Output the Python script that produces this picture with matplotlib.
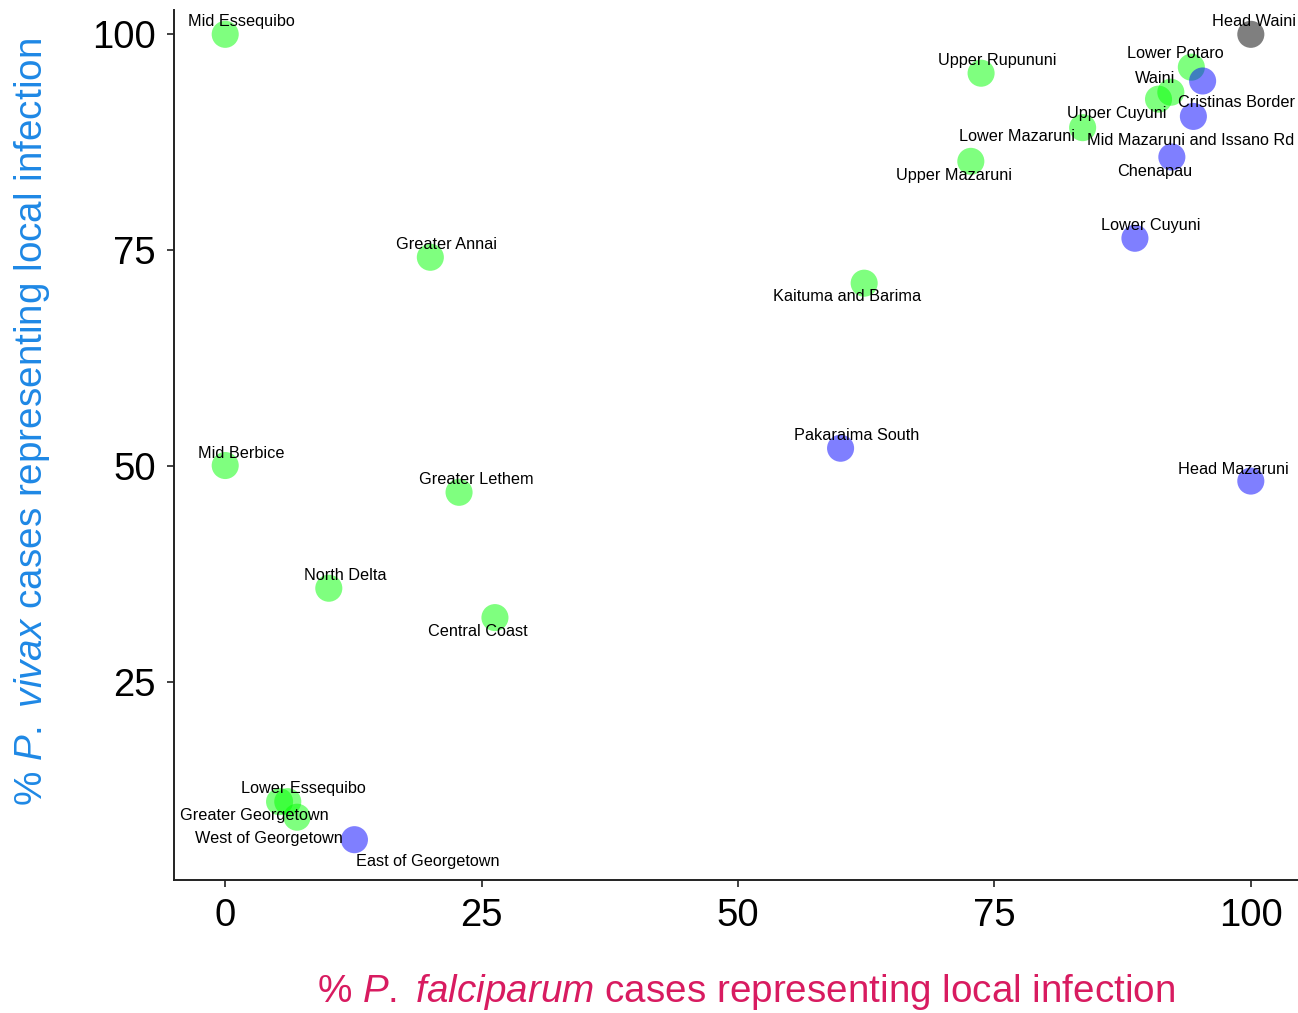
import matplotlib
matplotlib.use('Agg')
import matplotlib.pyplot as plt

plt.rcParams['font.family'] = ['Liberation Sans', 'DejaVu Sans']
plt.rcParams['mathtext.fontset'] = 'custom'
plt.rcParams['mathtext.rm'] = 'Liberation Sans'
plt.rcParams['mathtext.it'] = 'Liberation Sans:italic'

# region names and % local infection
regions = ['Mid Essequibo', 'Head Waini', 'Upper Rupununi', 'Lower Potaro',
           'Cristinas Border', 'Waini', 'Upper Cuyuni', 'Mid Mazaruni and Issano Rd',
           'Lower Mazaruni', 'Upper Mazaruni', 'Chenapau', 'Lower Cuyuni',
           'Greater Annai', 'Kaituma and Barima', 'Pakaraima South', 'Mid Berbice',
           'Head Mazaruni', 'Greater Lethem', 'North Delta', 'Central Coast',
           'Lower Essequibo', 'Greater Georgetown', 'West of Georgetown',
           'East of Georgetown']
pf_local = [0, 100, 73.7, 94.2, 95.3, 92.2, 91.0, 94.4, 83.6, 72.7, 92.3, 88.7,
            20.0, 62.3, 60.0, 0, 100, 22.8, 10.1, 26.3, 6.1, 5.3, 7.0, 12.6]
pv_local = [100, 100, 95.5, 96.2, 94.6, 93.3, 92.5, 90.5, 89.2, 85.3, 85.8, 76.4,
            74.2, 71.2, 52.1, 50.1, 48.3, 47.0, 35.9, 32.5, 11.2, 11.2, 9.4, 6.8]
group = ['g', 'k', 'g', 'g', 'b', 'g', 'g', 'b', 'g', 'g', 'b', 'b',
         'g', 'g', 'b', 'g', 'b', 'g', 'g', 'g', 'g', 'g', 'g', 'b']

# label offsets in pixels (dx, dy up)
offsets = [(16, 13), (3, 13), (16, 13), (-16, 14), (34, -22), (-16, 14), (-42, -14),
           (-3, -24), (-66, -9), (-17, -14), (-17, -14), (16, 13),
           (16, 13), (-17, -13), (16, 13), (16, 12), (-17, 12), (17, 13),
           (16, 13), (-17, -14), (16, 13), (-25, -14), (-28, -21), (73, -22)]

colours = {'g': '#00ff00', 'b': '#0000ff', 'k': '#000000'}

fig = plt.figure(figsize=(12.98, 10.13), dpi=100)
ax = fig.add_axes([0.134, 0.131, 0.866, 0.859])

ax.scatter(pf_local, pv_local, s=380, c=[colours[g] for g in group],
           alpha=0.5, linewidths=0, zorder=2)

for i in range(len(regions)):
    dx, dy = offsets[i]
    ax.annotate(regions[i], (pf_local[i], pv_local[i]),
                xytext=(dx * 0.72, dy * 0.72), textcoords='offset points',
                ha='center', va='center', fontsize=11.7, color='black', zorder=3)

ax.set_xlim(-5, 104.6)
ax.set_ylim(2.1, 102.8)
ax.set_xticks([0, 25, 50, 75, 100])
ax.set_yticks([25, 50, 75, 100])
ax.tick_params(labelsize=27.5, length=5, width=1.3, color='#333333', pad=8)
for s in ['top', 'right']:
    ax.spines[s].set_visible(False)
for s in ['left', 'bottom']:
    ax.spines[s].set_linewidth(1.4)
    ax.spines[s].set_color('#222222')

fig.text(746 / 1298, 1 - 992 / 1013,
         r'% $\mathit{P.}$ $\mathit{falciparum}$ cases representing local infection',
         fontsize=27.8, color='#D81B60', ha='center', va='center')
fig.text(32 / 1298, 1 - 422 / 1013,
         r'% $\mathit{P.}$ $\mathit{vivax}$ cases representing local infection',
         fontsize=27.8, color='#1E88E5', ha='center', va='center', rotation=90)

plt.savefig('out.png', dpi=100)
